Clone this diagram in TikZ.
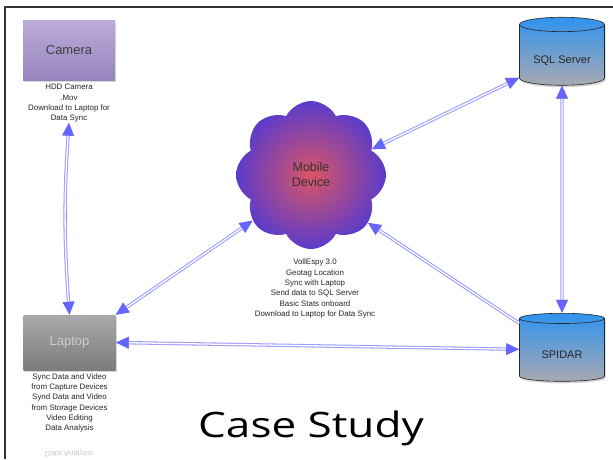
\documentclass[tikz,border=0pt]{standalone}
\usepackage{fontspec}
\setmainfont{Liberation Sans}
\newfontfamily\titlefont{Open Sans}
\usetikzlibrary{positioning, arrows.meta, shapes.geometric, shapes.symbols, shadows}

\definecolor{camtop}{HTML}{BBACDA}
\definecolor{cambot}{HTML}{9585BD}
\definecolor{laptop}{HTML}{A9A9A9}
\definecolor{lapbot}{HTML}{7C7C7C}
\definecolor{dbtop}{HTML}{2F93EE}
\definecolor{dbbot}{HTML}{A9A9B2}
\definecolor{cloudin}{HTML}{DA5565}
\definecolor{cloudout}{HTML}{5A3BCB}
\definecolor{linkline}{HTML}{9C9CFF}
\definecolor{linktip}{HTML}{6666FF}

\begin{document}
\begin{tikzpicture}[
    x=1pt, y=-1pt,
    node distance=3pt,
    devbox/.style={minimum width=92pt, minimum height=60pt, inner sep=0pt, font=\fontsize{13}{15}\selectfont, drop shadow={shadow xshift=1pt, shadow yshift=-1.5pt, opacity=0.3}},
    cambox/.style={devbox, top color=camtop, bottom color=cambot, text=black!75},
    lapbox/.style={devbox, minimum height=55pt, top color=laptop, bottom color=lapbot, text=black!20},
    dbcyl/.style={cylinder, shape border rotate=90, aspect=0.25, draw=black!85, line width=0.6pt, minimum width=85pt, minimum height=68pt, inner sep=0pt, text height=20pt, text depth=3pt, top color=dbtop, bottom color=dbbot, font=\fontsize{11}{13}\selectfont, text=black!85, drop shadow={shadow xshift=1pt, shadow yshift=-2pt, opacity=0.35}},
    cloudnode/.style={cloud, cloud puffs=8, cloud puff arc=125, aspect=1, minimum width=150pt, minimum height=148pt, inner sep=0pt, inner color=cloudin, outer color=cloudout, align=center, font=\fontsize{12.5}{15}\selectfont, text=black!80},
    caption/.style={align=center, font=\fontsize{7.9}{10.3}\selectfont, inner sep=0pt, text=black!85},
    link/.style={draw=white, line width=1.3pt, preaction={draw=linkline, line width=3.4pt}, >={Triangle[length=13pt, width=11pt, fill=linktip, color=linktip]}},
]
\useasboundingbox (0,0) rectangle (613,459);
% slide frame
\draw[line width=1.5pt, black!80] (5,459) -- (5,7) -- (613,7);

\node[cambox] (camera) at (69,50) {Camera};
\node[caption, below=4pt of camera] (camnote) {HDD Camera\\.Mov\\Download to Laptop for\\Data Sync};

\node[lapbox] (laptop) at (69.5,342.5) {Laptop};
\node[caption, below=3pt of laptop] (lapnote) {Sync Data and Video\\from Capture Devices\\Synd Data and Video\\from Storage Devices\\Video Editing\\Data Analysis};
\node[caption, yscale=-1, opacity=0.25] (lapecho) at (69,454) {Data Analysis};

\node[cloudnode] (mobile) at (311,175) {Mobile\\Device};
\node[caption, anchor=north] (mobnote) at (315,259) {VollEspy 3.0\\Geotag Location\\Sync with Laptop\\Send data to SQL Server\\Basic Stats onboard\\Download to Laptop for Data Sync};

\node[dbcyl] (sql) at (562,55) {SQL Server};
\node[dbcyl] (spidar) at (562,350) {SPIDAR};

\node[font=\titlefont\fontsize{35}{40}\selectfont, xscale=1.26] (title) at (311,428) {Case Study};

% links
\draw[link, <->] (camnote.south) to[bend right=4] (laptop.north);
\draw[link, <->] (laptop.north east) -- (mobile.218);
\draw[link, <->] (laptop.east) -- (spidar);
\draw[link, <->] (sql.208) -- (mobile.23);
\draw[link, <->] (sql) -- (spidar);
\draw[link, ->] (spidar.148) -- (mobile.320);
\end{tikzpicture}
\end{document}
